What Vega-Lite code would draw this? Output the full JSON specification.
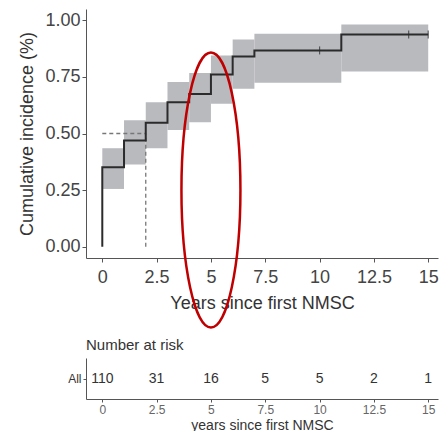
{
  "$schema": "https://vega.github.io/schema/vega-lite/v6.json",
  "background": "white",
  "padding": {"top": 9, "left": 18, "right": 0, "bottom": 0},
  "spacing": 5,
  "config": {
    "font": "Liberation Sans",
    "view": {"stroke": null},
    "axis": {"grid": false, "domainColor": "#555555", "tickColor": "#555555", "labelColor": "#444444", "titleColor": "#333333", "titleFontWeight": "normal", "labelFont": "Liberation Sans", "titleFont": "Liberation Sans"}
  },
  "datasets": {
    "band": [
      {"x0": 0, "x1": 1, "lo": 0.255, "hi": 0.435},
      {"x0": 1, "x1": 2, "lo": 0.363, "hi": 0.558},
      {"x0": 2, "x1": 3, "lo": 0.435, "hi": 0.638},
      {"x0": 3, "x1": 4, "lo": 0.516, "hi": 0.727},
      {"x0": 4, "x1": 5, "lo": 0.55, "hi": 0.767},
      {"x0": 5, "x1": 6, "lo": 0.631, "hi": 0.845},
      {"x0": 6, "x1": 7, "lo": 0.698, "hi": 0.915},
      {"x0": 7, "x1": 11, "lo": 0.724, "hi": 0.941},
      {"x0": 11, "x1": 15, "lo": 0.774, "hi": 0.982}
    ],
    "curve": [
      {"i": 0, "t": 0, "p": 0},
      {"i": 1, "t": 0, "p": 0.351},
      {"i": 2, "t": 1, "p": 0.469},
      {"i": 3, "t": 2, "p": 0.547},
      {"i": 4, "t": 3, "p": 0.638},
      {"i": 5, "t": 4, "p": 0.675},
      {"i": 6, "t": 5, "p": 0.761},
      {"i": 7, "t": 6, "p": 0.84},
      {"i": 8, "t": 7, "p": 0.867},
      {"i": 9, "t": 11, "p": 0.937},
      {"i": 10, "t": 15, "p": 0.937}
    ],
    "censor": [
      {"t": 10, "p": 0.867},
      {"t": 14.1, "p": 0.937},
      {"t": 15, "p": 0.937}
    ],
    "median": [
      {"x": 0, "x2": 2, "y": 0.5, "y2": 0.5},
      {"x": 2, "x2": 2, "y": 0, "y2": 0.5}
    ],
    "highlight": [{"t": 5, "p": 0.25}],
    "risk": [
      {"t": 0, "n": 110, "g": "All"},
      {"t": 2.5, "n": 31, "g": "All"},
      {"t": 5, "n": 16, "g": "All"},
      {"t": 7.5, "n": 5, "g": "All"},
      {"t": 10, "n": 5, "g": "All"},
      {"t": 12.5, "n": 2, "g": "All"},
      {"t": 15, "n": 1, "g": "All"}
    ]
  },
  "vconcat": [
    {
      "width": 352,
      "height": 249,
      "layer": [
        {
          "data": {"name": "band"},
          "mark": {"type": "rect", "color": "#b9babe"},
          "encoding": {
            "x": {"field": "x0", "type": "quantitative", "scale": {"domain": [-0.75, 15.45], "nice": false, "zero": false},
              "axis": {"values": [0, 2.5, 5, 7.5, 10, 12.5, 15], "labelFontSize": 18, "tickSize": 4, "labelPadding": 6, "titleFontSize": 18, "titlePadding": 8, "labelExpr": "datum.value"},
              "title": "Years since first NMSC"},
            "x2": {"field": "x1"},
            "y": {"field": "lo", "type": "quantitative", "scale": {"domain": [-0.05, 1.05], "nice": false, "zero": false},
              "axis": {"values": [0, 0.25, 0.5, 0.75, 1], "format": ".2f", "labelFontSize": 18, "tickSize": 4, "labelPadding": 2, "titleFontSize": 18, "titlePadding": 8},
              "title": "Cumulative incidence (%)"},
            "y2": {"field": "hi"}
          }
        },
        {
          "data": {"name": "median"},
          "mark": {"type": "rule", "color": "#777777", "strokeDash": [4, 3], "strokeWidth": 1.3},
          "encoding": {
            "x": {"field": "x", "type": "quantitative"},
            "x2": {"field": "x2"},
            "y": {"field": "y", "type": "quantitative"},
            "y2": {"field": "y2"}
          }
        },
        {
          "data": {"name": "curve"},
          "mark": {"type": "line", "interpolate": "step-after", "color": "#2b2b2b", "strokeWidth": 2},
          "encoding": {
            "x": {"field": "t", "type": "quantitative"},
            "y": {"field": "p", "type": "quantitative"},
            "order": {"field": "i"}
          }
        },
        {
          "data": {"name": "censor"},
          "mark": {"type": "tick", "orient": "vertical", "color": "#2b2b2b", "size": 8, "thickness": 1.2},
          "encoding": {
            "x": {"field": "t", "type": "quantitative"},
            "y": {"field": "p", "type": "quantitative"}
          }
        },
        {
          "data": {"name": "highlight"},
          "mark": {"type": "point", "filled": false, "stroke": "#c00000", "strokeWidth": 2.5, "opacity": 1,
            "shape": "M 0 -1 C 0.1185 -1 0.2145 -0.5523 0.2145 0 C 0.2145 0.5523 0.1185 1 0 1 C -0.1185 1 -0.2145 0.5523 -0.2145 0 C -0.2145 -0.5523 -0.1185 -1 0 -1 Z",
            "size": 75625},
          "encoding": {
            "x": {"field": "t", "type": "quantitative"},
            "y": {"field": "p", "type": "quantitative"}
          }
        }
      ]
    },
    {
      "width": 352,
      "height": 41,
      "title": {"text": "Number at risk", "anchor": "start", "frame": "group", "fontSize": 15, "fontWeight": "normal", "color": "#333333", "offset": 5, "font": "Liberation Sans"},
      "data": {"name": "risk"},
      "mark": {"type": "text", "fontSize": 14, "color": "#333333"},
      "encoding": {
        "x": {"field": "t", "type": "quantitative", "scale": {"domain": [-0.75, 15.45], "nice": false, "zero": false},
          "axis": {"values": [0, 2.5, 5, 7.5, 10, 12.5, 15], "labelFontSize": 12, "labelColor": "#666666", "tickSize": 3, "labelPadding": 2, "titleFontSize": 14, "titlePadding": 3, "labelExpr": "datum.value"},
          "title": "years since first NMSC"},
        "y": {"field": "g", "type": "nominal", "axis": {"labelFontSize": 12, "tickSize": 3, "labelPadding": 2, "labelColor": "#333333"}, "title": null},
        "text": {"field": "n", "type": "quantitative"}
      }
    }
  ]
}
